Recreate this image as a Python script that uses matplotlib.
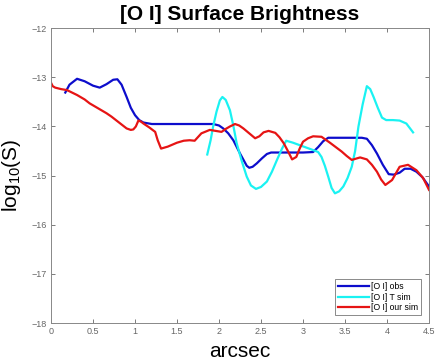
import matplotlib
matplotlib.use("Agg")
import matplotlib.pyplot as plt

plt.rcParams['font.family'] = ['Liberation Sans', 'DejaVu Sans']
plt.rcParams['mathtext.fontset'] = 'custom'
plt.rcParams['mathtext.rm'] = 'Liberation Sans'

# [O I] observed
obs_x = [0.17, 0.22, 0.31, 0.40, 0.50, 0.58, 0.66, 0.74, 0.79, 0.84, 0.90, 0.95, 1.00,
         1.05, 1.10, 1.20, 1.40, 1.60, 1.80, 1.93, 2.00, 2.05, 2.11, 2.17, 2.25,
         2.33, 2.36, 2.40, 2.45, 2.51, 2.57, 2.62, 2.80, 3.00, 3.12, 3.18, 3.24,
         3.30, 3.40, 3.55, 3.70, 3.76, 3.82, 3.88, 3.95, 4.02, 4.08, 4.15, 4.21,
         4.28, 4.35, 4.42, 4.50]
obs_y = [-13.31, -13.15, -13.03, -13.08, -13.17, -13.21, -13.14, -13.05, -13.04, -13.15,
         -13.40, -13.62, -13.77, -13.87, -13.92, -13.95, -13.95, -13.95, -13.95, -13.95,
         -13.98, -14.04, -14.14, -14.28, -14.55, -14.80, -14.84, -14.82, -14.75, -14.65,
         -14.56, -14.53, -14.53, -14.53, -14.52, -14.42, -14.30, -14.23, -14.23, -14.23,
         -14.23, -14.25, -14.38, -14.55, -14.78, -14.97, -14.98, -14.94, -14.86, -14.86,
         -14.92, -15.03, -15.22]

# [O I] T sim
tsim_x = [1.86, 1.90, 1.93, 1.97, 2.01, 2.04, 2.08, 2.13, 2.17, 2.21, 2.27, 2.33, 2.38,
          2.44, 2.50, 2.57, 2.63, 2.69, 2.75, 2.80, 2.88, 2.96, 3.04, 3.12, 3.18, 3.22,
          3.26, 3.30, 3.34, 3.38, 3.43, 3.48, 3.53, 3.58, 3.62, 3.66, 3.71, 3.76, 3.80,
          3.84, 3.89, 3.94, 3.99, 4.07, 4.15, 4.23, 4.31]
tsim_y = [-14.57, -14.28, -14.00, -13.70, -13.47, -13.40, -13.46, -13.67, -13.98, -14.34,
          -14.70, -15.02, -15.20, -15.27, -15.23, -15.12, -14.92, -14.68, -14.45, -14.29,
          -14.33, -14.38, -14.43, -14.48, -14.52, -14.62, -14.80, -15.02, -15.25, -15.36,
          -15.32, -15.22, -15.05, -14.82, -14.50, -14.00, -13.55, -13.18, -13.24, -13.40,
          -13.62, -13.82, -13.87, -13.87, -13.88, -13.94, -14.12]

# [O I] our sim
our_x = [0.00, 0.02, 0.05, 0.12, 0.19, 0.31, 0.40, 0.46, 0.56, 0.66, 0.72, 0.78, 0.84,
         0.90, 0.95, 0.98, 1.01, 1.04, 1.07, 1.10, 1.17, 1.24, 1.27, 1.31, 1.39, 1.50,
         1.58, 1.65, 1.71, 1.79, 1.89, 1.96, 2.03, 2.08, 2.13, 2.19, 2.24, 2.29, 2.36,
         2.43, 2.48, 2.53, 2.59, 2.67, 2.72, 2.77, 2.82, 2.87, 2.92, 2.96, 3.00, 3.06,
         3.12, 3.22, 3.32, 3.39, 3.46, 3.52, 3.58, 3.68, 3.76, 3.82, 3.88, 3.93, 3.98,
         4.06, 4.15, 4.25, 4.35, 4.43, 4.50]
our_y = [-13.11, -13.18, -13.21, -13.24, -13.26, -13.36, -13.45, -13.53, -13.63, -13.73,
         -13.80, -13.88, -13.96, -14.04, -14.07, -14.06, -14.00, -13.88, -13.90, -13.94,
         -14.02, -14.11, -14.28, -14.45, -14.41, -14.33, -14.29, -14.28, -14.29, -14.14,
         -14.07, -14.09, -14.11, -14.05, -14.00, -13.95, -13.98, -14.04, -14.14, -14.24,
         -14.20, -14.12, -14.09, -14.13, -14.22, -14.34, -14.50, -14.67, -14.62, -14.45,
         -14.31, -14.24, -14.20, -14.21, -14.33, -14.42, -14.51, -14.60, -14.68, -14.63,
         -14.67, -14.78, -14.92, -15.08, -15.19, -15.09, -14.82, -14.78, -14.89, -15.05,
         -15.29]

fig = plt.figure(figsize=(4.36, 3.61), dpi=100)
ax = fig.add_axes([0.117, 0.105, 0.867, 0.817])

ax.plot(obs_x, obs_y, color=(0.05, 0.05, 0.8), lw=1.6, label='[O I] obs')
ax.plot(tsim_x, tsim_y, color=(0.1, 0.95, 0.95), lw=1.6, label='[O I] T sim')
ax.plot(our_x, our_y, color=(0.9, 0.08, 0.08), lw=1.6, label='[O I] our sim')

ax.set_xlim(0, 4.5)
ax.set_ylim(-18, -12)
ax.set_xticks([0, 0.5, 1, 1.5, 2, 2.5, 3, 3.5, 4, 4.5])
ax.set_xticklabels(['0', '0.5', '1', '1.5', '2', '2.5', '3', '3.5', '4', '4.5'])
ax.set_yticks([-18, -17, -16, -15, -14, -13, -12])
ax.tick_params(direction='in', top=True, right=True, labelsize=6.5,
               colors='#666666', length=3, width=0.6, pad=3)
for s in ax.spines.values():
    s.set_color('#888888')
    s.set_linewidth(0.7)

ax.set_title('[O I] Surface Brightness', fontsize=15, fontweight='bold', pad=6)
ax.set_xlabel('arcsec', fontsize=15, labelpad=4)
ax.set_ylabel('log$_{10}$(S)', fontsize=15, labelpad=6)

leg = ax.legend(loc='lower right', fontsize=6.2, frameon=True, fancybox=False,
                handlelength=3.6, borderaxespad=0.9, labelspacing=0.2,
                handletextpad=0.3, borderpad=0.35)
leg.get_frame().set_edgecolor('#555555')
leg.get_frame().set_linewidth(0.6)

fig.savefig('out.png', dpi=100)
